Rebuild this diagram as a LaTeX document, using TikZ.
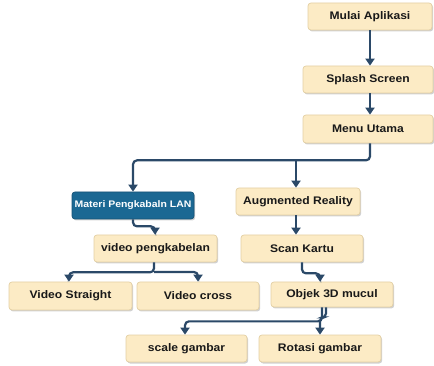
\documentclass[tikz,border=0pt]{standalone}
\usepackage{fontspec}
\setmainfont[FakeStretch=1.1, BoldFont={Liberation Sans Bold}, BoldFeatures={FakeStretch=1.1}]{Liberation Sans}
\usetikzlibrary{arrows.meta,shadows}
\definecolor{boxfill}{HTML}{FCEBC5}
\definecolor{boxline}{HTML}{E3CFA3}
\definecolor{bluebox}{HTML}{1B6893}
\definecolor{conn}{HTML}{2B4968}
\tikzset{
  flowbox/.style={draw=boxline, line width=0.7pt, fill=boxfill, rounded corners=3pt,
    minimum height=27pt, inner sep=0pt, font=\fontsize{11}{13}\selectfont\bfseries,
    text=black!90, drop shadow={shadow xshift=1.2pt, shadow yshift=-1.5pt, fill=black!30, opacity=0.6}},
  bluenode/.style={flowbox, draw=bluebox!80!black, fill=bluebox, text=white,
    font=\fontsize{9.5}{11}\selectfont\bfseries},
  conn/.style={draw=conn, line width=2.2pt, rounded corners=4pt,
    -{Triangle[width=9pt,length=7pt]}}
}
\begin{document}
\begin{tikzpicture}[x=1pt,y=-1pt]
\useasboundingbox (0,0) rectangle (434,366);
\node[flowbox, minimum width=124pt] (mulai) at (370,16.5) {Mulai Aplikasi};
\node[flowbox, minimum width=130pt] (splash) at (368,79.5) {Splash Screen};
\node[flowbox, minimum width=130pt, minimum height=28pt] (menu) at (368,129) {Menu Utama};
\node[bluenode, minimum width=122pt] (materi) at (133,205.5) {Materi Pengkabaln LAN};
\node[flowbox, minimum width=124pt] (ar) at (298,201.5) {Augmented Reality};
\node[flowbox, minimum width=123pt] (vp) at (155.5,248.5) {video pengkabelan};
\node[flowbox, minimum width=122pt] (scan) at (302,248.5) {Scan Kartu};
\node[flowbox, minimum width=123pt, minimum height=28pt] (vs) at (70.5,296) {Video Straight};
\node[flowbox, minimum width=122pt, minimum height=28pt] (vc) at (198,296) {Video cross};
\node[flowbox, minimum width=122pt, minimum height=25pt] (obj) at (332,294.5) {Objek 3D mucul};
\node[flowbox, minimum width=121pt] (scale) at (186.5,348.5) {scale gambar};
\node[flowbox, minimum width=122pt] (rot) at (320,348.5) {Rotasi gambar};

\draw[conn] ([xshift=0pt]mulai.south) -- (mulai.south |- splash.north);
\draw[conn] ([xshift=2pt]splash.south) -- ([xshift=2pt]splash.south |- menu.north);
\draw[conn] ([xshift=2pt]menu.south) -- ++(0,17) -| (materi.north);
\coordinate (j1) at (296,160);
\draw[conn] (j1) -- (j1 |- ar.north);
\draw[conn] (materi.south) -- ++(0,7) -| ([xshift=-0.5pt]vp.north);
\draw[conn] ([xshift=-2pt]ar.south) -- ([xshift=-2pt]ar.south |- scan.north);
\draw[conn] ([xshift=-1.5pt]vp.south) -- ++(0,10) -| ([xshift=-1.5pt]vs.north);
\coordinate (j2) at (154,272);
\draw[conn] (j2) -| (vc.north);
\draw[conn] (scan.south) -- ++(0,11) -| ([xshift=-12pt]obj.north);
\draw[conn] ([xshift=-10pt]obj.south) -- ++(0,14) -| ([xshift=-1.5pt]scale.north);
\draw[conn] ([xshift=-6pt]obj.south) -- ++(0,10) -| (rot.north);
\end{tikzpicture}
\end{document}
